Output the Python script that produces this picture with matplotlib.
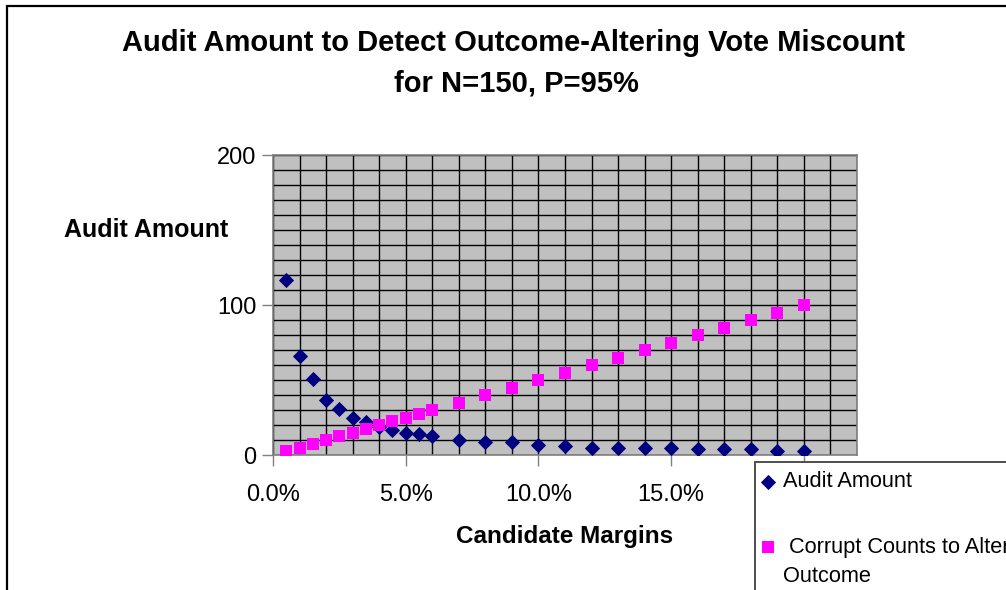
import matplotlib
matplotlib.use('Agg')
import matplotlib.pyplot as plt
from matplotlib.ticker import MultipleLocator, PercentFormatter
from matplotlib.patches import Rectangle

plt.rcParams['font.family'] = ['Liberation Sans', 'DejaVu Sans']

# candidate margins (percent)
margins = [0.5, 1, 1.5, 2, 2.5, 3, 3.5, 4, 4.5, 5, 5.5, 6,
           7, 8, 9, 10, 11, 12, 13, 14, 15, 16, 17, 18, 19, 20]
audit_amount = [117, 66, 51, 37, 31, 25, 22, 19, 17, 15, 14, 13,
                10, 9, 9, 7, 6, 5, 5, 5, 5, 4, 4, 4, 3, 3]
corrupt_counts = [2.5, 5, 7.5, 10, 12.5, 15, 17.5, 20, 22.5, 25, 27.5, 30,
                  35, 40, 45, 50, 55, 60, 65, 70, 75, 80, 85, 90, 95, 100]

W, H = 1006, 590
fig = plt.figure(figsize=(W / 100, H / 100), dpi=100)
fig.patch.set_facecolor('white')

# outer chart border (chart is cropped on the right/bottom)
fig.patches.append(Rectangle((6.5 / W, -0.1), 1.2, 1.1 - 5.5 / H,
                             transform=fig.transFigure, fill=False,
                             edgecolor='black', lw=1.6, zorder=0))

ax = fig.add_axes([273 / W, 135 / H, 584 / W, 300 / H])
ax.set_facecolor('#c0c0c0')

ax.scatter(margins, audit_amount, marker='D', s=60, color='#000080',
           label='Audit Amount', zorder=3, linewidths=0)
ax.scatter(margins, corrupt_counts, marker='s', s=85, color='#ff00ff',
           label=' Corrupt Counts to Alter', zorder=3, linewidths=0)

ax.set_xlim(0, 22)
ax.set_ylim(0, 200)
ax.xaxis.set_major_locator(MultipleLocator(5))
ax.xaxis.set_minor_locator(MultipleLocator(1))
ax.yaxis.set_major_locator(MultipleLocator(100))
ax.yaxis.set_minor_locator(MultipleLocator(10))
ax.xaxis.set_major_formatter(PercentFormatter(decimals=1))
ax.grid(True, which='both', color='black', lw=1.0, zorder=1)
ax.set_axisbelow(True)
ax.tick_params(which='major', direction='out', length=8, width=1,
               color='#808080', labelsize=17)
ax.tick_params(axis='x', which='major', pad=13)
ax.tick_params(axis='y', which='major', pad=4)
ax.tick_params(which='minor', length=0)
for s in ax.spines.values():
    s.set_color('#808080')
    s.set_linewidth(1.2)

fig.text(514 / W, 1 - 43 / H, 'Audit Amount to Detect Outcome-Altering Vote Miscount',
         ha='center', va='center', fontsize=21, fontweight='bold')
fig.text(516 / W, 1 - 83 / H, 'for N=150, P=95%',
         ha='center', va='center', fontsize=21, fontweight='bold')
fig.text(146 / W, 1 - 230 / H, 'Audit Amount', ha='center', va='center',
         fontsize=18, fontweight='bold')
fig.text(565 / W, 1 - 536 / H, 'Candidate Margins', ha='center', va='center',
         fontsize=17.5, fontweight='bold')

# legend box (cropped by the picture edge)
fig.patches.append(Rectangle((755 / W, -0.1), 0.5, (H - 462) / H + 0.1,
                             transform=fig.transFigure, facecolor='white',
                             edgecolor='#404040', lw=1.3, zorder=4))
leg = fig.legend(loc='upper left', bbox_to_anchor=(755 / W, 1 - 466 / H),
                 fontsize=15.7, frameon=False, labelspacing=2.05,
                 handletextpad=0.34, handlelength=0.7, borderpad=0.25,
                 borderaxespad=0, scatterpoints=1)
leg.set_zorder(5)
fig.text(783 / W, 1 - 577 / H, 'Outcome', ha='left', va='center',
         fontsize=15.7, zorder=6)

fig.savefig('out.png', dpi=100)
